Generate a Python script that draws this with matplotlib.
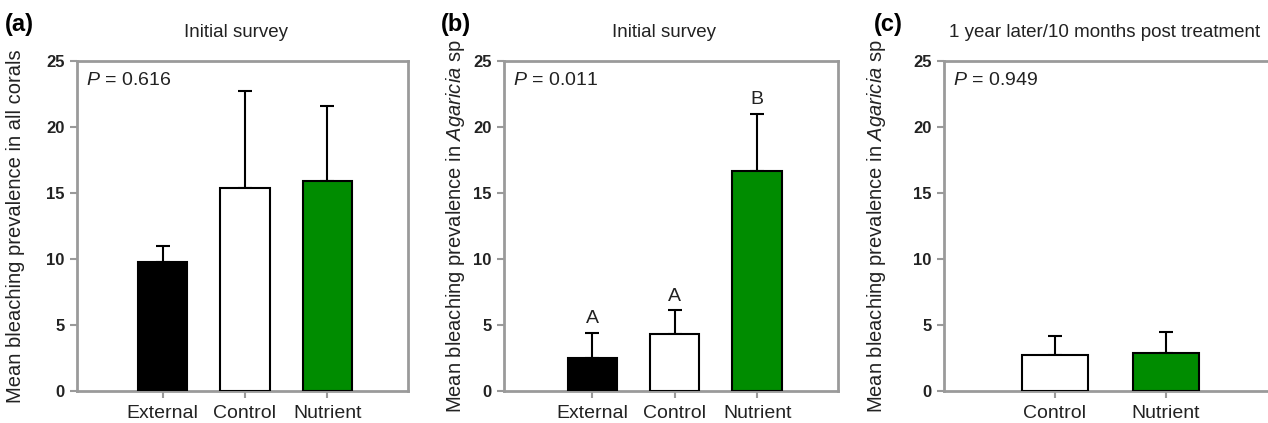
import matplotlib
matplotlib.use("Agg")
import matplotlib.pyplot as plt

plt.rcParams['font.family'] = ['Liberation Sans', 'DejaVu Sans']
plt.rcParams['mathtext.fontset'] = 'custom'
plt.rcParams['mathtext.rm'] = 'Liberation Sans'
plt.rcParams['mathtext.it'] = 'Liberation Sans:italic'

# panel (a): all corals, initial survey
cats_a = ['External', 'Control', 'Nutrient']
mean_a = [9.8, 15.4, 15.9]
err_a = [1.2, 7.3, 5.7]

# panel (b): Agaricia sp, initial survey
cats_b = ['External', 'Control', 'Nutrient']
mean_b = [2.5, 4.3, 16.7]
err_b = [1.9, 1.8, 4.3]
letters_b = ['A', 'A', 'B']

# panel (c): Agaricia sp, 1 year later
cats_c = ['Control', 'Nutrient']
mean_c = [2.7, 2.85]
err_c = [1.5, 1.65]

colors = {'External': 'black', 'Control': 'white', 'Nutrient': '#008C00'}

W, H = 1268, 423
fig = plt.figure(figsize=(W / 100, H / 100), dpi=100)

spine_col = '#9a9a9a'
text_col = '#222222'


def px_axes(left, right, top, bottom):
    return fig.add_axes([left / W, 1 - bottom / H, (right - left) / W, (bottom - top) / H])


panels = [
    dict(box=(77, 408), cats=cats_a, mean=mean_a, err=err_a, xlim=(-1.04, 2.98),
         title='Initial survey', p='$\\it{P}$ = 0.616', tag='(a)', tagx=5, ylx=25,
         ylabel='Mean bleaching prevalence in all corals', letters=None, right=True),
    dict(box=(504, 838), cats=cats_b, mean=mean_b, err=err_b, xlim=(-1.07, 2.98),
         title='Initial survey', p='$\\it{P}$ = 0.011', tag='(b)', tagx=441, ylx=467,
         ylabel='Mean bleaching prevalence in $\\it{Agaricia}$ sp', letters=letters_b,
         right=True),
    dict(box=(944, 1278), cats=cats_c, mean=mean_c, err=err_c, xlim=(-1.0, 2.01),
         title='1 year later/10 months post treatment', p='$\\it{P}$ = 0.949', tag='(c)',
         tagx=874, ylx=888, ylabel='Mean bleaching prevalence in $\\it{Agaricia}$ sp',
         letters=None, right=False),
]

for pn in panels:
    ax = px_axes(pn['box'][0], pn['box'][1], 61, 391)
    x = list(range(len(pn['cats'])))
    ax.bar(x, pn['mean'], width=0.6, color=[colors[c] for c in pn['cats']],
           edgecolor='black', linewidth=1.5, zorder=3)
    ax.errorbar(x, pn['mean'], yerr=[[0] * len(x), pn['err']], fmt='none',
                ecolor='black', elinewidth=1.5, capsize=5, capthick=1.5, zorder=2)
    if pn['letters']:
        for xi, m, e, lt in zip(x, pn['mean'], pn['err'], pn['letters']):
            ax.annotate(lt, (xi, m + e), xytext=(0, 4), textcoords='offset points',
                        ha='center', va='bottom', fontsize=14, color=text_col)
    ax.set_xlim(*pn['xlim'])
    ax.set_ylim(0, 25)
    ax.set_yticks([0, 5, 10, 15, 20, 25])
    ax.set_xticks(x)
    ax.set_xticklabels(pn['cats'], fontsize=14, color=text_col)
    for lab in ax.get_yticklabels():
        lab.set_fontsize(12)
        lab.set_fontweight('bold')
        lab.set_color(text_col)
    ax.tick_params(axis='both', direction='out', length=5, width=1.5, color=spine_col)
    ax.tick_params(axis='y', pad=4)
    ax.tick_params(axis='x', pad=5)
    for s in ax.spines.values():
        s.set_color(spine_col)
        s.set_linewidth(2)
    ax.spines['right'].set_visible(pn['right'])
    ax.text(0.028, 0.94, pn['p'], transform=ax.transAxes, fontsize=14,
            va='center', ha='left', color=text_col)
    t = ax.set_title(pn['title'], fontsize=13.5, pad=17, color=text_col)
    t.set_x(0.48)
    ax.set_ylabel(pn['ylabel'], fontsize=14.5, color=text_col)
    ax.yaxis.set_label_coords(pn['ylx'] / W, 0.5 * (1 - 61 / H + 1 - 391 / H),
                              transform=fig.transFigure)
    fig.text(pn['tagx'] / W, 1 - 25 / H, pn['tag'], fontsize=17, fontweight='bold',
             ha='left', va='center', color='black')

fig.savefig('out.png', dpi=100)
